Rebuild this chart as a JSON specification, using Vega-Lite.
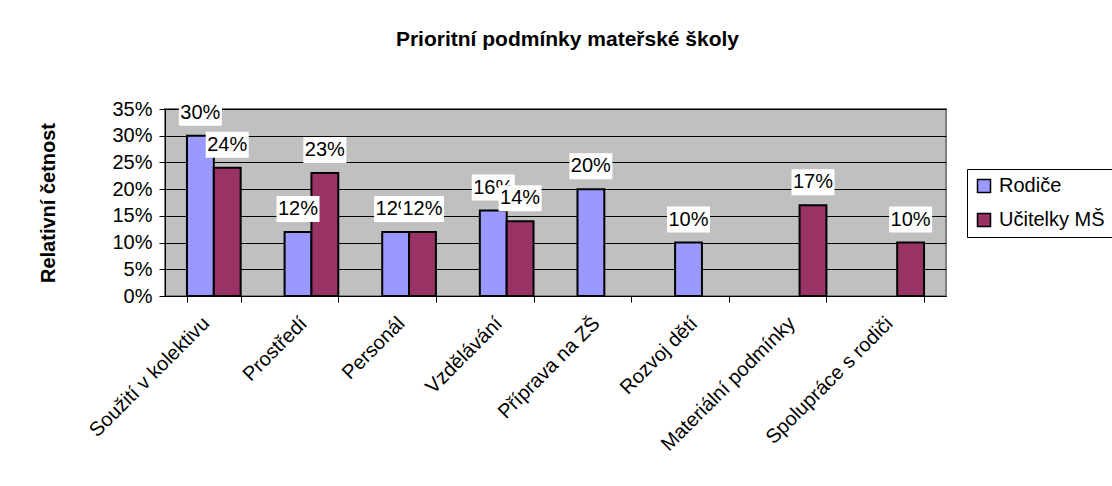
{
  "$schema": "https://vega.github.io/schema/vega-lite/v6.json",
  "width": 781,
  "height": 187,
  "autosize": {"type": "none"},
  "padding": {"left": 165, "top": 109, "right": 166, "bottom": 190},
  "background": "white",
  "title": {
    "text": "Prioritní podmínky mateřské školy",
    "fontSize": 21,
    "fontWeight": "bold",
    "color": "black",
    "font": "Liberation Sans",
    "anchor": "middle",
    "frame": "group",
    "baseline": "alphabetic",
    "offset": 32,
    "dx": 12
  },
  "config": {
    "font": "Liberation Sans",
    "view": {"fill": "#C0C0C0", "stroke": "#808080", "strokeWidth": 2},
    "axis": {"labelColor": "black", "titleColor": "black", "domainColor": "black", "tickColor": "black"}
  },
  "data": {
    "values": [
      {"kategorie": "Soužití v kolektivu", "skupina": "Rodiče", "hodnota": 0.30},
      {"kategorie": "Soužití v kolektivu", "skupina": "Učitelky MŠ", "hodnota": 0.24},
      {"kategorie": "Prostředí", "skupina": "Rodiče", "hodnota": 0.12},
      {"kategorie": "Prostředí", "skupina": "Učitelky MŠ", "hodnota": 0.23},
      {"kategorie": "Personál", "skupina": "Rodiče", "hodnota": 0.12},
      {"kategorie": "Personál", "skupina": "Učitelky MŠ", "hodnota": 0.12},
      {"kategorie": "Vzdělávání", "skupina": "Rodiče", "hodnota": 0.16},
      {"kategorie": "Vzdělávání", "skupina": "Učitelky MŠ", "hodnota": 0.14},
      {"kategorie": "Příprava na ZŠ", "skupina": "Rodiče", "hodnota": 0.20},
      {"kategorie": "Rozvoj dětí", "skupina": "Rodiče", "hodnota": 0.10},
      {"kategorie": "Materiální podmínky", "skupina": "Učitelky MŠ", "hodnota": 0.17},
      {"kategorie": "Spolupráce s rodiči", "skupina": "Učitelky MŠ", "hodnota": 0.10}
    ]
  },
  "encoding": {
    "x": {
      "field": "kategorie",
      "type": "nominal",
      "sort": null,
      "scale": {"paddingInner": 0.45, "paddingOuter": 0.225},
      "axis": {
        "title": null,
        "labelAngle": -45,
        "labelAlign": "right",
        "labelBaseline": "middle",
        "labelFontSize": 20,
        "labelPadding": 18,
        "labelOffset": -8,
        "labelLimit": 400,
        "tickBand": "extent",
        "tickSize": 6,
        "domainWidth": 1,
        "grid": false
      }
    },
    "xOffset": {"field": "skupina", "type": "nominal", "scale": {"domain": ["Rodiče", "Učitelky MŠ"]}},
    "y": {
      "field": "hodnota",
      "type": "quantitative",
      "scale": {"domain": [0, 0.35], "nice": false},
      "axis": {
        "title": "Relativní četnost",
        "titleFontSize": 20,
        "titleFontWeight": "bold",
        "titlePadding": 53,
        "format": ".0%",
        "values": [0, 0.05, 0.1, 0.15, 0.2, 0.25, 0.3, 0.35],
        "labelFontSize": 20,
        "labelPadding": 7,
        "tickSize": 6,
        "grid": true,
        "gridColor": "black",
        "gridWidth": 1,
        "gridOpacity": 1,
        "domainWidth": 1
      }
    }
  },
  "layer": [
    {
      "mark": {"type": "bar", "stroke": "black", "strokeWidth": 2, "opacity": 1},
      "encoding": {
        "color": {
          "field": "skupina",
          "type": "nominal",
          "scale": {"domain": ["Rodiče", "Učitelky MŠ"], "range": ["#9999FF", "#993366"]},
          "legend": {
            "title": null,
            "orient": "none",
            "legendX": 802,
            "legendY": 60,
            "symbolType": "square",
            "symbolSize": 169,
            "symbolStrokeColor": "black",
            "symbolStrokeWidth": 1.5,
            "symbolOpacity": 1,
            "labelFontSize": 20,
            "labelColor": "black",
            "labelOffset": 5,
            "rowPadding": 14,
            "padding": 7,
            "strokeColor": "black",
            "fillColor": "white"
          }
        }
      }
    },
    {
      "transform": [{"filter": "datum.skupina === 'Rodiče'"}],
      "mark": {"type": "point", "shape": "M -2.15 -3.6 L 2.15 -3.6 L 2.15 -1.0 L -2.15 -1.0 Z", "size": 400, "filled": true, "fill": "white", "strokeWidth": 0, "opacity": 1}
    },
    {
      "transform": [{"filter": "datum.skupina === 'Rodiče'"}],
      "mark": {"type": "text", "dy": -23, "baseline": "middle", "fontSize": 20, "color": "black"},
      "encoding": {"text": {"field": "hodnota", "type": "quantitative", "format": ".0%"}}
    },
    {
      "transform": [{"filter": "datum.skupina === 'Učitelky MŠ'"}],
      "mark": {"type": "point", "shape": "M -2.15 -3.6 L 2.15 -3.6 L 2.15 -1.0 L -2.15 -1.0 Z", "size": 400, "filled": true, "fill": "white", "strokeWidth": 0, "opacity": 1}
    },
    {
      "transform": [{"filter": "datum.skupina === 'Učitelky MŠ'"}],
      "mark": {"type": "text", "dy": -23, "baseline": "middle", "fontSize": 20, "color": "black"},
      "encoding": {"text": {"field": "hodnota", "type": "quantitative", "format": ".0%"}}
    }
  ]
}
